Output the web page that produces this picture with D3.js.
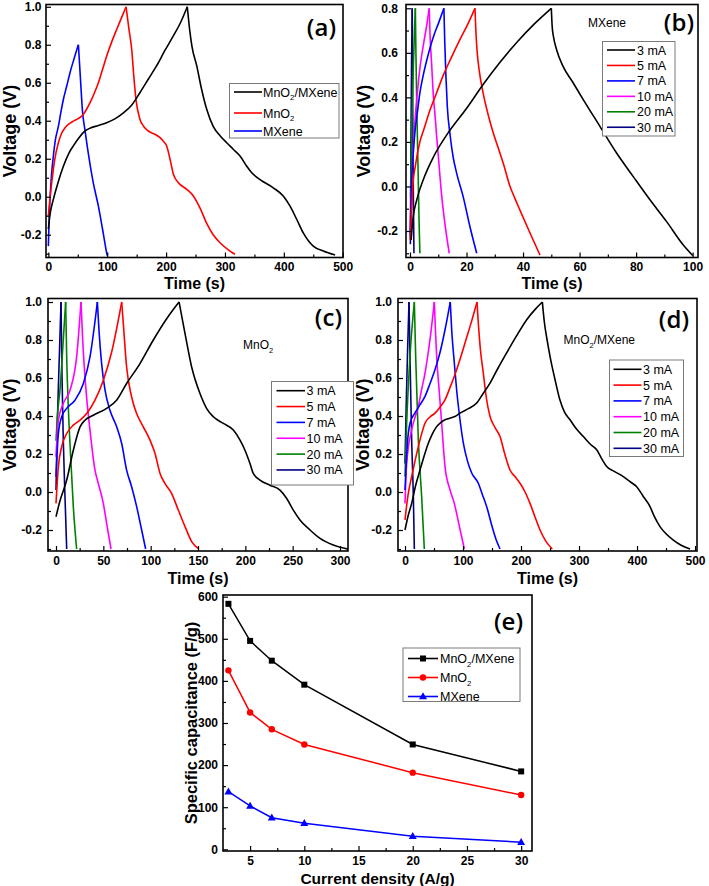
<!DOCTYPE html>
<html><head><meta charset="utf-8">
<script src="https://cdn.jsdelivr.net/npm/d3@7"></script>
<style>body{margin:0;background:#fff} svg{display:block}</style>
</head><body>
<svg id="c" width="709" height="886"></svg>
<script>
// ---------------- DATA ----------------
// (a) GCD comparison at 3 mA  [time (s), voltage (V)]
const gcdA_MnO2MXene = [[0,-0.17],[3,-0.09],[8.5,-0.014],[16,0.07],[25.5,0.16],[35,0.23],[43,0.27],[52,0.31],[60,0.34],[70,0.36],[85,0.375],[99,0.39],[113,0.41],[127,0.44],[141,0.48],[156,0.55],[170,0.62],[184,0.69],[198,0.77],[212,0.845],[225,0.92],[236,1.0],[240,0.88],[244,0.79],[252,0.69],[260,0.57],[269,0.46],[280,0.37],[292,0.32],[303,0.284],[314,0.25],[325.6,0.214],[337,0.16],[345.5,0.126],[359.6,0.09],[382,0.047],[399,0.004],[410.6,-0.05],[422,-0.12],[433,-0.19],[450,-0.26],[467,-0.286],[487,-0.307]];
const gcdA_MnO2 = [[0,-0.10],[3,0.0],[5.7,0.074],[10,0.18],[17,0.284],[22,0.33],[28.4,0.363],[35,0.383],[42.5,0.398],[50,0.41],[56.7,0.424],[63,0.45],[70.8,0.495],[78,0.545],[85,0.6],[92,0.67],[99,0.74],[107,0.81],[116,0.88],[124,0.94],[132,1.0],[137,0.88],[141.6,0.775],[145,0.64],[148.9,0.51],[155.7,0.407],[162,0.37],[170,0.346],[180,0.33],[189.7,0.311],[196,0.29],[201,0.267],[206.7,0.197],[212.4,0.118],[220.9,0.074],[235,0.039],[246.3,0.004],[257.7,-0.06],[269,-0.14],[280,-0.2],[291.6,-0.242],[308.6,-0.286],[317,-0.303]];
const gcdA_MXene = [[0,-0.26],[1.5,-0.1],[2.8,-0.014],[5.5,0.12],[8.5,0.214],[12,0.3],[17,0.37],[21,0.44],[25.5,0.512],[31,0.58],[36.8,0.653],[44,0.73],[51,0.8],[53,0.7],[55.5,0.57],[58,0.45],[62,0.354],[70.8,0.17],[76.5,0.07],[85,-0.05],[92,-0.17],[99,-0.295],[100,-0.31]];
const seriesA = ["MnO_2/MXene","MnO_2","MXene"];
const colorsA = ["#000000","#ff0000","#0000ff"];

// (b) MXene at different currents
const gcdB_3mA = [[0.4,-0.24],[1,-0.15],[2.4,-0.06],[5,0.04],[8.2,0.13],[14,0.25],[20,0.35],[26,0.46],[32,0.56],[38,0.65],[44,0.73],[50,0.8],[50.3,0.72],[50.8,0.67],[51.9,0.613],[54.2,0.538],[57.5,0.47],[61.3,0.39],[67.2,0.27],[73.1,0.15],[79,0.044],[84.9,-0.06],[90.8,-0.158],[96.7,-0.263],[100,-0.31]];
const gcdB_5mA = [[0.1,-0.24],[0.6,-0.1],[1,0.0],[2,0.1],[3.5,0.2],[5,0.26],[7,0.34],[9.4,0.42],[11.8,0.5],[14.5,0.575],[17.7,0.66],[20.5,0.73],[23,0.8],[23.3,0.7],[23.8,0.6],[24.5,0.52],[25.9,0.418],[27.5,0.33],[29.5,0.239],[31.3,0.17],[33,0.104],[35.4,0.0],[37,-0.05],[38.9,-0.106],[42.5,-0.21],[46,-0.308]];
const gcdB_7mA = [[0.1,-0.22],[0.5,0.0],[1,0.12],[1.8,0.25],[2.6,0.33],[3.5,0.42],[4.7,0.5],[6,0.57],[8.5,0.68],[10,0.73],[12,0.8],[12.3,0.65],[12.7,0.5],[13.2,0.36],[14.2,0.23],[15.3,0.13],[16.5,0.06],[18.9,-0.05],[21.2,-0.18],[23.6,-0.30]];
const gcdB_10mA = [[0.1,-0.2],[0.4,-0.05],[0.9,0.1],[1.8,0.3],[2.6,0.42],[3.5,0.53],[4.8,0.64],[6,0.73],[6.8,0.8],[7.1,0.68],[7.7,0.54],[8.3,0.4],[8.8,0.33],[9.4,0.23],[10,0.14],[11.2,-0.04],[12.5,-0.18],[13.9,-0.30]];
const gcdB_20mA = [[0.2,-0.05],[0.6,0.25],[1.1,0.5],[1.6,0.7],[1.9,0.8],[2.1,0.6],[2.5,0.3],[2.9,0.05],[3.2,-0.15],[3.5,-0.30]];
const gcdB_30mA = [[0.15,-0.26],[0.35,0.2],[0.55,0.55],[0.8,0.8],[0.9,0.5],[1.05,0.2],[1.2,-0.05],[1.4,-0.30]];

// (c) MnO2 at different currents
const gcdC_3mA = [[0,-0.13],[4,-0.05],[11.3,0.063],[18.3,0.22],[25.4,0.343],[30.6,0.378],[39.4,0.404],[53.5,0.44],[64,0.483],[74.6,0.571],[88.7,0.676],[102.8,0.8],[116.9,0.912],[130,1.0],[133,0.92],[136.3,0.834],[143.3,0.658],[152.1,0.518],[159.2,0.439],[166.2,0.396],[176.8,0.361],[187.3,0.326],[194.4,0.273],[199.6,0.22],[204.9,0.15],[208.4,0.098],[215.5,0.063],[226,0.036],[236.6,0.01],[243.7,-0.034],[250.7,-0.095],[257.7,-0.147],[268.3,-0.2],[278.9,-0.244],[292.9,-0.279],[309.8,-0.302]];
const gcdC_5mA = [[0,-0.06],[2.5,0.133],[6,0.238],[11.3,0.308],[18.3,0.352],[25.4,0.378],[32.4,0.413],[41.2,0.483],[50,0.588],[58.8,0.737],[69.4,1.0],[71.1,0.886],[74.6,0.658],[79.9,0.5],[85.2,0.413],[92.2,0.343],[99.3,0.273],[104.6,0.203],[109.9,0.098],[115.1,0.045],[122.2,-0.008],[129.2,-0.095],[136.3,-0.182],[143.3,-0.261],[151,-0.30]];
const gcdC_7mA = [[0,0.08],[2.5,0.308],[6,0.396],[11.3,0.44],[20,0.483],[28.9,0.571],[35.9,0.711],[43.7,1.0],[45.4,0.851],[48.2,0.676],[51.8,0.536],[57,0.43],[64.1,0.343],[69.4,0.255],[74.6,0.115],[79.9,0.028],[85.2,-0.077],[90.5,-0.2],[94.7,-0.30]];
const gcdC_10mA = [[0,0.185],[2.5,0.378],[7.7,0.466],[14.8,0.536],[21.8,0.711],[26.4,1.0],[28.2,0.8],[31.7,0.536],[35.9,0.326],[41.2,0.115],[44.7,0.045],[50,-0.06],[53.5,-0.165],[58.1,-0.30]];
const gcdC_20mA = [[0,0.27],[1.4,0.396],[4.2,0.536],[7.7,0.8],[10.2,1.0],[11.3,0.71],[13,0.448],[15.5,0.185],[18.3,-0.077],[21.8,-0.30]];
const gcdC_30mA = [[0,0.01],[1.4,0.36],[3.5,0.71],[5.3,1.0],[6.3,0.623],[7.7,0.273],[9.5,-0.025],[11.3,-0.30]];

// (d) MnO2/MXene at different currents
const gcdD_3mA = [[0,-0.2],[5,-0.13],[11.5,-0.06],[18,0.03],[25.9,0.116],[33,0.19],[40.2,0.257],[47,0.305],[54.6,0.344],[62,0.367],[69,0.38],[77,0.388],[86,0.397],[94.8,0.415],[110,0.44],[123.6,0.468],[135,0.52],[146.6,0.573],[160,0.65],[175,0.731],[192,0.82],[209.8,0.907],[224,0.96],[236.8,1.0],[240,0.9],[245,0.8],[250,0.714],[258,0.6],[267,0.485],[275,0.42],[284.5,0.38],[296,0.33],[307.5,0.292],[320,0.25],[330.5,0.222],[340,0.17],[347.7,0.134],[360,0.11],[376.4,0.081],[390,0.05],[399.4,0.028],[410,-0.02],[422.4,-0.077],[430,-0.13],[439.6,-0.182],[450,-0.22],[462.6,-0.253],[476,-0.28],[491.4,-0.30]];
const gcdD_5mA = [[0,-0.147],[5,-0.02],[11.5,0.081],[17,0.16],[23,0.239],[29,0.31],[34.5,0.362],[43,0.395],[51.7,0.415],[60,0.445],[69,0.485],[77.6,0.55],[86,0.617],[95,0.7],[105,0.8],[114,0.89],[124.1,1.0],[126.4,0.889],[130,0.75],[135,0.626],[140,0.5],[146.6,0.397],[155,0.34],[163.8,0.292],[172,0.2],[181,0.116],[190,0.08],[198.3,0.046],[207,0.0],[215.5,-0.06],[224,-0.13],[232.8,-0.2],[243,-0.26],[254,-0.30]];
const gcdD_7mA = [[0,0.011],[4,0.25],[8.6,0.362],[17,0.415],[25,0.455],[34.5,0.503],[43,0.57],[51.7,0.643],[60,0.73],[69,0.854],[78,1.0],[80.5,0.854],[85,0.68],[89,0.538],[94,0.4],[100.6,0.257],[108,0.16],[115,0.1],[126.4,0.046],[133,-0.01],[140.8,-0.077],[150,-0.18],[157,-0.25],[163.8,-0.30]];
const gcdD_10mA = [[0,-0.06],[2.9,0.151],[11.5,0.327],[17,0.39],[23,0.45],[28,0.53],[34.5,0.626],[43,0.8],[50.6,1.0],[52.5,0.85],[54.6,0.713],[59,0.53],[63.2,0.362],[69,0.134],[77.6,0.011],[85,-0.06],[93,-0.17],[102.3,-0.30]];
const gcdD_20mA = [[0,0.081],[2.9,0.362],[8.6,0.713],[16.1,1.0],[18.4,0.713],[23,0.274],[28.7,-0.024],[33.3,-0.30]];
const gcdD_30mA = [[0,0.15],[2,0.45],[4.5,0.75],[6.9,1.0],[8.6,0.713],[11.5,0.274],[14.4,-0.024],[16.1,-0.30]];

const currentNames = ["3 mA","5 mA","7 mA","10 mA","20 mA","30 mA"];
const currentColors = ["#000000","#ff0000","#0000ff","#ff00ff","#008000","#000080"];

// (e) specific capacitance
const currentDensity = [3,5,7,10,20,30];
const capMnO2MXene = [583,495,448,391,249,185];
const capMnO2 = [425,325,285,249,182,129];
const capMXene = [137,103,75,62,31,17];
const seriesE = ["MnO_2/MXene","MnO_2","MXene"];
const colorsE = ["#000000","#ff0000","#0000ff"];
const markersE = ["square","circle","triangle"];

// tick values
const timeTicksA = [0,100,200,300,400,500];
const timeTicksB = [0,20,40,60,80,100];
const timeTicksC = [0,50,100,150,200,250,300];
const timeTicksD = [0,100,200,300,400,500];
const voltTicksAC = [-0.2,0,0.2,0.4,0.6,0.8,1.0];
const voltTicksB = [-0.2,0,0.2,0.4,0.6,0.8];
const densityTicks = [5,10,15,20,25,30];
const capTicks = [0,100,200,300,400,500,600];

// ---------------- DRAW ----------------
const svg = d3.select("#c");
const AX_FONT = "'Liberation Sans', Arial, sans-serif";

function richText(g, x, y, str, fs, attrs) {
  const t = g.append("text").attr("x", x).attr("y", y)
    .attr("font-family", AX_FONT).attr("font-size", fs).attr("fill", "#000");
  if (attrs) Object.entries(attrs).forEach(([k, v]) => t.attr(k, v));
  const parts = str.split(/_(\d)/);
  let sub = false;
  parts.forEach((p, i) => {
    if (p === "") return;
    if (i % 2 === 1) {
      t.append("tspan").attr("font-size", fs * 0.62).attr("dy", fs * 0.3).text(p);
      sub = true;
    } else {
      const ts = t.append("tspan").text(p);
      if (sub) { ts.attr("dy", -fs * 0.3); sub = false; }
    }
  });
  return t;
}

function mid(a) { const m = []; for (let i = 0; i < a.length - 1; i++) m.push(+((a[i] + a[i + 1]) / 2).toFixed(4)); return m; }

let clipId = 0;
function panel(o) {
  const g = svg.append("g");
  const x = d3.scaleLinear().domain(o.xdom).range([o.left, o.right]);
  const y = d3.scaleLinear().domain(o.ydom).range([o.bottom, o.top]);
  const id = "clip" + (clipId++);
  svg.append("clipPath").attr("id", id).append("rect")
    .attr("x", o.left).attr("y", o.top).attr("width", o.right - o.left).attr("height", o.bottom - o.top);
  const plot = g.append("g").attr("clip-path", `url(#${id})`);

  g.append("g").attr("transform", `translate(0,${o.bottom})`)
    .call(d3.axisBottom(x).tickValues(o.xMajor).tickSize(-5).tickPadding(o.xPad).tickFormat(o.xfmt));
  g.append("g").attr("transform", `translate(0,${o.bottom})`)
    .call(d3.axisBottom(x).tickValues(o.xMinor).tickSize(-3).tickFormat(""));
  g.append("g").attr("transform", `translate(${o.left},0)`)
    .call(d3.axisLeft(y).tickValues(o.yMajor).tickSize(-5).tickPadding(o.yPad).tickFormat(o.yfmt));
  g.append("g").attr("transform", `translate(${o.left},0)`)
    .call(d3.axisLeft(y).tickValues(o.yMinor).tickSize(-3).tickFormat(""));
  g.selectAll(".domain").remove();
  g.selectAll(".tick line").attr("stroke", "#000").attr("stroke-width", 1.2);
  g.selectAll(".tick text").attr("font-family", AX_FONT).attr("font-weight", "bold")
    .attr("font-size", 12).attr("fill", "#000");

  g.append("rect").attr("x", o.left).attr("y", o.top)
    .attr("width", o.right - o.left).attr("height", o.bottom - o.top)
    .attr("fill", "none").attr("stroke", "#000").attr("stroke-width", 1.6);

  g.append("text").attr("x", (o.left + o.right) / 2).attr("y", o.xTitleY)
    .attr("text-anchor", "middle").attr("font-family", AX_FONT).attr("font-weight", "bold")
    .attr("font-size", o.xTitleSize || 16).text(o.xTitle);
  g.append("text").attr("transform", `translate(${o.yTitleX},${(o.top + o.bottom) / 2}) rotate(-90)`)
    .attr("text-anchor", "middle").attr("font-family", AX_FONT).attr("font-weight", "bold")
    .attr("font-size", o.yTitleSize || 18).text(o.yTitle);

  g.append("text").attr("x", o.letterX).attr("y", o.letterY).attr("text-anchor", "end")
    .attr("font-family", "'Open Sans', sans-serif").attr("font-weight", 600)
    .attr("font-size", 24).text(o.letter);

  return { g, plot, x, y };
}

function gcdCurves(p, datasets, colors) {
  const line = d3.line().x(d => p.x(d[0])).y(d => p.y(d[1])).curve(d3.curveMonotoneX);
  datasets.forEach((data, i) => {
    let k = 0; data.forEach((d, j) => { if (d[1] > data[k][1]) k = j; });
    const charge = data.slice(0, k + 1), discharge = data.slice(k);
    [charge, discharge].forEach(seg => {
      p.plot.append("path").datum(seg).attr("d", line)
        .attr("fill", "none").attr("stroke", colors[i]).attr("stroke-width", 1.6)
        .attr("stroke-linejoin", "round");
    });
  });
}

function legend(g, o, names, colors, markers) {
  g.append("rect").attr("x", o.x0).attr("y", o.y0).attr("width", o.x1 - o.x0).attr("height", o.y1 - o.y0)
    .attr("fill", "#fff").attr("stroke", "#7a7a7a").attr("stroke-width", 1);
  names.forEach((n, i) => {
    const yy = o.rows[i];
    g.append("line").attr("x1", o.lx0).attr("x2", o.lx1).attr("y1", yy).attr("y2", yy)
      .attr("stroke", colors[i]).attr("stroke-width", 1.6);
    if (markers) drawMarker(g, markers[i], (o.lx0 + o.lx1) / 2, yy, colors[i]);
    richText(g, o.tx, yy + 4.5, n, 12.5);
  });
}

function drawMarker(g, type, cx, cy, color) {
  if (type === "square") g.append("rect").attr("x", cx - 3).attr("y", cy - 3).attr("width", 6).attr("height", 6).attr("fill", color);
  else if (type === "circle") g.append("circle").attr("cx", cx).attr("cy", cy).attr("r", 3.2).attr("fill", color);
  else g.append("path").attr("d", `M${cx},${cy - 4.2}L${cx + 4},${cy + 2.8}L${cx - 4},${cy + 2.8}Z`).attr("fill", color);
}

const f1 = v => v.toFixed(1);
const f0 = v => String(v);

// ---- (a)
const pA = panel({ left: 46, right: 343, top: 4.5, bottom: 257.5, xdom: [-4, 500.5], ydom: [-0.32, 1.012],
  xMajor: timeTicksA, xMinor: mid(timeTicksA), yMajor: voltTicksAC, yMinor: [-0.3].concat(mid(voltTicksAC)),
  xfmt: f0, yfmt: f1, xPad: 5, yPad: 4.5, xTitle: "Time (s)", yTitle: "Voltage (V)", xTitleY: 289, yTitleX: 16,
  letter: "(a)", letterX: 336, letterY: 36 });
gcdCurves(pA, [gcdA_MXene, gcdA_MnO2, gcdA_MnO2MXene], [colorsA[2], colorsA[1], colorsA[0]]);
legend(pA.g, { x0: 229.5, x1: 339, y0: 83.5, y1: 138, rows: [92, 113, 131], lx0: 234, lx1: 262, tx: 263 }, seriesA, colorsA);

// ---- (b)
const pB = panel({ left: 406, right: 698, top: 4.5, bottom: 257.5, xdom: [-1.41, 101.9], ydom: [-0.319, 0.817],
  xMajor: timeTicksB, xMinor: mid(timeTicksB), yMajor: voltTicksB, yMinor: [-0.3].concat(mid(voltTicksB)),
  xfmt: f0, yfmt: f1, xPad: 5, yPad: 8, xTitle: "Time (s)", yTitle: "Voltage (V)", xTitleY: 289, yTitleX: 370,
  letter: "(b)", letterX: 694, letterY: 31 });
gcdCurves(pB, [gcdB_30mA, gcdB_20mA, gcdB_10mA, gcdB_7mA, gcdB_5mA, gcdB_3mA],
  currentColors.slice().reverse());
richText(pB.g, 588, 27, "MXene", 12);
legend(pB.g, { x0: 602.5, x1: 675, y0: 41.5, y1: 136, rows: currentNames.map((d, i) => 50 + i * 15.45), lx0: 607, lx1: 635, tx: 637 },
  currentNames, currentColors);

// ---- (c)
const pC = panel({ left: 48, right: 348, top: 298.5, bottom: 551, xdom: [-8.45, 308.45], ydom: [-0.3105, 1.0184],
  xMajor: timeTicksC, xMinor: mid(timeTicksC), yMajor: voltTicksAC, yMinor: [-0.3].concat(mid(voltTicksAC)),
  xfmt: f0, yfmt: f1, xPad: 5, yPad: 6, xTitle: "Time (s)", yTitle: "Voltage (V)", xTitleY: 584, yTitleX: 16,
  letter: "(c)", letterX: 342, letterY: 326 });
gcdCurves(pC, [gcdC_30mA, gcdC_20mA, gcdC_10mA, gcdC_7mA, gcdC_5mA, gcdC_3mA], currentColors.slice().reverse());
richText(pC.g, 243, 349, "MnO_2", 12);
legend(pC.g, { x0: 271.5, x1: 353.5, y0: 381.5, y1: 485, rows: currentNames.map((d, i) => 390.7 + i * 15.85), lx0: 276.5, lx1: 305, tx: 306.5 },
  currentNames, currentColors);

// ---- (d)
const pD = panel({ left: 398, right: 697, top: 298.5, bottom: 551, xdom: [-12.07, 503.4], ydom: [-0.3105, 1.0184],
  xMajor: timeTicksD, xMinor: mid(timeTicksD), yMajor: voltTicksAC, yMinor: [-0.3].concat(mid(voltTicksAC)),
  xfmt: f0, yfmt: f1, xPad: 5, yPad: 6, xTitle: "Time (s)", yTitle: "Voltage (V)", xTitleY: 584, yTitleX: 369,
  letter: "(d)", letterX: 689, letterY: 328 });
gcdCurves(pD, [gcdD_30mA, gcdD_20mA, gcdD_10mA, gcdD_7mA, gcdD_5mA, gcdD_3mA], currentColors.slice().reverse());
richText(pD.g, 563.5, 344, "MnO_2/MXene", 12);
legend(pD.g, { x0: 609.5, x1: 683.5, y0: 360, y1: 456.5, rows: currentNames.map((d, i) => 369.3 + i * 15.8), lx0: 613.5, lx1: 641.5, tx: 643 },
  currentNames, currentColors);

// ---- (e)
const pE = panel({ left: 223, right: 532, top: 595, bottom: 851, xdom: [2.5, 31.0], ydom: [-4.04, 604],
  xMajor: densityTicks, xMinor: mid(densityTicks), yMajor: capTicks, yMinor: mid(capTicks),
  xfmt: f0, yfmt: f0, xPad: 5, yPad: 5, xTitle: "Current density (A/g)", yTitle: "Specific capacitance (F/g)",
  xTitleY: 884, yTitleX: 197, xTitleSize: 15.5, yTitleSize: 16.5, letter: "(e)", letterX: 523, letterY: 630 });
[capMnO2MXene, capMnO2, capMXene].forEach((vals, i) => {
  const pts = currentDensity.map((c, j) => [c, vals[j]]);
  pE.plot.append("path").datum(pts)
    .attr("d", d3.line().x(d => pE.x(d[0])).y(d => pE.y(d[1])))
    .attr("fill", "none").attr("stroke", colorsE[i]).attr("stroke-width", 1.5);
  pts.forEach(d => drawMarker(pE.g, markersE[i], pE.x(d[0]), pE.y(d[1]), colorsE[i]));
});
legend(pE.g, { x0: 403, x1: 520, y0: 648, y1: 701.5, rows: [658.5, 677.5, 696.5], lx0: 408, lx1: 438, tx: 440 },
  seriesE, colorsE, markersE);
</script>
</body></html>
